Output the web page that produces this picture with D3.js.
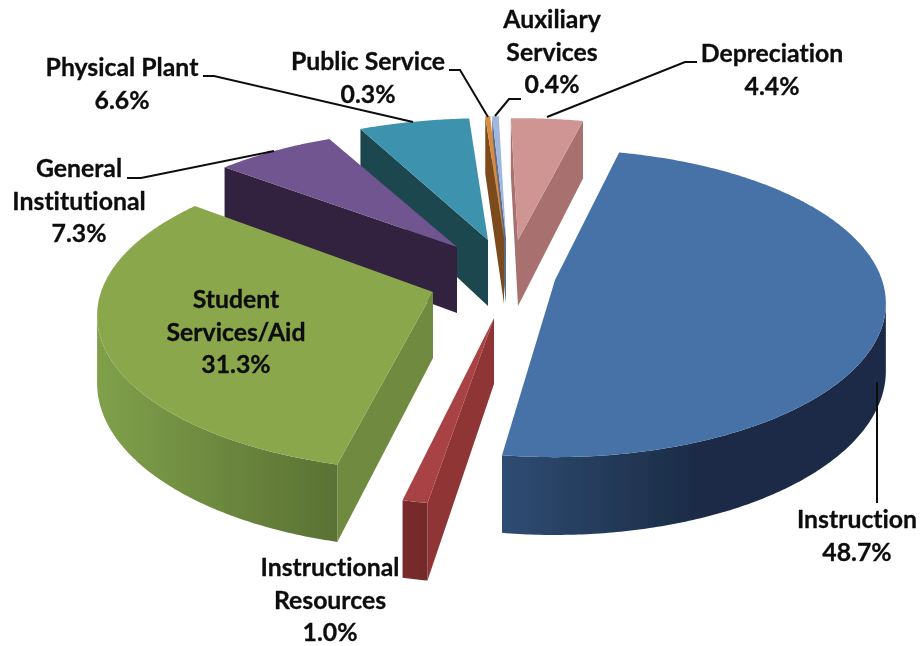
<!DOCTYPE html>
<html>
<head>
<meta charset="utf-8">
<script src="https://cdn.jsdelivr.net/npm/d3@7"></script>
<style>
  html, body { margin: 0; background: #fff; }
  svg { display: block; }
  text { font-family: Lato, "Open Sans", sans-serif; font-weight: 700; font-size: 24.8px; fill: #0d0d0d;
    stroke: #0d0d0d; stroke-width: 0.3px; font-variant-ligatures: none; }
</style>
</head>
<body>
<svg id="chart"></svg>
<script>
const categories = ["Instruction", "Instructional Resources", "Student Services/Aid", "General Institutional",
  "Physical Plant", "Public Service", "Auxiliary Services", "Depreciation"];
const values = [48.7, 1.0, 31.3, 7.3, 6.6, 0.3, 0.4, 4.4];

// how each category wraps in its label
const labelLines = [["Instruction"], ["Instructional", "Resources"], ["Student", "Services/Aid"], ["General", "Institutional"],
  ["Physical Plant"], ["Public Service"], ["Auxiliary", "Services"], ["Depreciation"]];

// top face, visible cut wall, rim wall light end, rim wall dark end
const topColors = ["#4672a8", "#a94244", "#8aa74c", "#715590", "#3e93ad", "#d98b3f", "#9fb6de", "#cf9593"];
const cutColors = ["#2f4c70", "#8f3635", "#6f8b3f", "#31233f", "#1e4650", "#7b4c1f", "#5d6d88", "#a87170"];
const rimLight = ["#2f4c72", "#7a2c2d", "#80a04a", "#31233f", "#1e4650", "#7b4c1f", "#5d6d88", "#a87170"];
const rimDark = ["#1b2c46", "#732a2b", "#5a7234", "#31233f", "#1e4650", "#7b4c1f", "#5d6d88", "#a87170"];

const width = 922;
const height = 646;
const cx = 500;
const cy = 280;
const radius = 332;
const wallDepth = 66;
const tilt = 0.457;
const persp = 0.152 / radius;
const firstAngle = 13 * Math.PI / 180;

// explosion of each slice away from the pie centre, on screen
const explodeX = [55, -6, -67, -43, -12, 4, 6, 18];
const explodeY = [0, 38, 12, -33, -40, -42, -42, -40];
const reachX = [0.985, 1.05, 1, 1, 1, 1, 1, 1];
const reachY = [0.99, 1.05, 1, 0.9, 0.925, 0.925, 0.925, 0.925];

// the source's 3D camera bends the rim a little: degrees added by pie angle
const lens = d3.scaleLinear()
  .domain([13, 188.31, 188.33, 191.91, 191.93, 304.59, 304.61, 331, 355, 373])
  .range([0, -0.4, 1, 1, 2.3, 3.7, 5.2, 3.2, 1.6, 0]);
const bend = (t) => {
  const deg = t * 180 / Math.PI;
  return t + lens(deg) * Math.PI / 180;
};
const inset = 0.01 * Math.PI / 180;

// back slices first so the front ones paint over them
const drawOrder = [6, 5, 7, 4, 3, 2, 1, 0];

// text anchor: label centre, first baseline
const labelX = [857, 330, 236, 79, 122, 368, 552, 772];
const labelY = [528, 576, 308, 177, 76, 70, 28, 62];

const leaders = [
  [[877, 382], [877, 503]],
  [],
  [],
  [[127, 178], [141, 178], [274, 151]],
  [[203, 76], [214, 76], [413, 122]],
  [[449, 70], [460, 70], [488, 117]],
  [[521, 99], [509, 99], [495, 116]],
  [[697, 62], [685, 62], [547, 117]]
];

const svg = d3.select("#chart").attr("width", width).attr("height", height);
const defs = svg.append("defs");
defs.append("filter").attr("id", "soft")
  .append("feGaussianBlur").attr("stdDeviation", 0.55);

const pie = d3.pie().sort(null).startAngle(firstAngle).endAngle(firstAngle + 2 * Math.PI);
const arcs = pie(values);

const project = (theta, r, i) => {
  const X = r * Math.sin(theta);
  const Y = -r * Math.cos(theta);
  const w = 1 - persp * Y;
  return { x: reachX[i] * X / w, y: reachY[i] * tilt * Y / w, d: wallDepth / w };
};

const line = d3.line().x((p) => p.x).y((p) => p.y);
const closed = (pts) => line(pts) + "Z";
const bottom = (p) => ({ x: p.x, y: p.y + p.d });

const pieG = svg.append("g").attr("filter", "url(#soft)");

drawOrder.forEach((i) => {
  const a = arcs[i];
  const ox = cx + explodeX[i];
  const oy = cy + explodeY[i];
  const g = pieG.append("g").attr("transform", `translate(${ox},${oy})`);

  const steps = Math.max(4, Math.ceil((a.endAngle - a.startAngle) * 90));
  const a0 = a.startAngle + inset;
  const a1 = a.endAngle - inset;
  const rim = d3.range(steps + 1).map((s) => project(bend(a0 + (a1 - a0) * s / steps), radius, i));
  const apex = project(0, 0, i);

  // a wall shows when its top edge runs right to left in clockwise order
  const first = rim[0];
  const last = rim[rim.length - 1];
  if (apex.x > first.x) {
    g.append("path").attr("d", closed([apex, first, bottom(first), bottom(apex)])).attr("fill", cutColors[i]);
  }
  if (last.x > apex.x) {
    g.append("path").attr("d", closed([last, apex, bottom(apex), bottom(last)])).attr("fill", cutColors[i]);
  }

  const front = rim.filter((p, k) =>
    (k < rim.length - 1 && p.x > rim[k + 1].x) || (k > 0 && rim[k - 1].x > p.x));
  if (front.length > 1) {
    const gradId = "rim" + i;
    const grad = defs.append("linearGradient").attr("id", gradId)
      .attr("gradientUnits", "userSpaceOnUse")
      .attr("x1", d3.min(front, (p) => p.x)).attr("x2", d3.max(front, (p) => p.x))
      .attr("y1", 0).attr("y2", 0);
    grad.append("stop").attr("offset", 0).attr("stop-color", rimLight[i]);
    grad.append("stop").attr("offset", i === 0 ? 0.5 : 1).attr("stop-color", rimDark[i]);
    g.append("path")
      .attr("d", closed(front.concat(front.map(bottom).reverse())))
      .attr("fill", `url(#${gradId})`);
  }

  g.append("path").attr("d", closed([apex].concat(rim))).attr("fill", topColors[i]);
});

const leaderLine = d3.line();
svg.append("g").selectAll("path").data(leaders.filter((l) => l.length)).enter()
  .append("path")
  .attr("d", (d) => leaderLine(d))
  .attr("fill", "none")
  .attr("stroke", "#0d0d0d")
  .attr("stroke-width", 2);

const fmt = d3.format(".1f");
const labels = svg.append("g").selectAll("text").data(categories).enter()
  .append("text")
  .attr("text-anchor", "middle")
  .attr("x", (d, i) => labelX[i])
  .attr("y", (d, i) => labelY[i]);

labels.each(function (d, i) {
  const rows = labelLines[i].concat(fmt(values[i]) + "%");
  d3.select(this).selectAll("tspan").data(rows).enter()
    .append("tspan")
    .attr("x", labelX[i])
    .attr("dy", (r, k) => (k ? 32.5 : 0))
    .text((r) => r);
});
</script>
</body>
</html>
